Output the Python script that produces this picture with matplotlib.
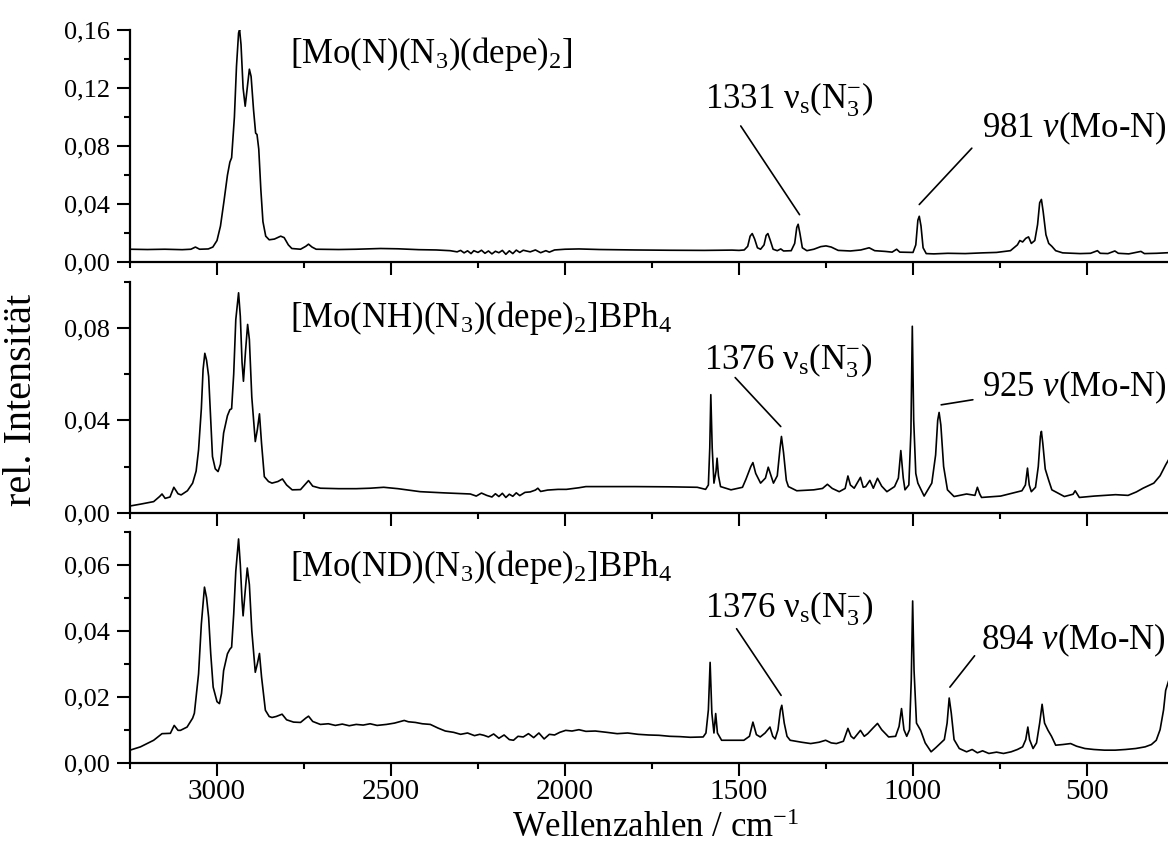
import matplotlib
matplotlib.use("Agg")
import matplotlib.pyplot as plt
from matplotlib.ticker import MultipleLocator, FuncFormatter

plt.rcParams['font.family'] = ['Liberation Serif', 'DejaVu Serif']
plt.rcParams['mathtext.fontset'] = 'custom'
plt.rcParams['mathtext.rm'] = 'Liberation Serif'
plt.rcParams['mathtext.it'] = 'Liberation Serif:italic'
plt.rcParams['mathtext.bf'] = 'Liberation Serif:bold'

# ---------------- data ----------------
top_wn = [3250, 3200, 3150, 3100, 3075, 3062, 3050, 3025, 3012, 3000, 2990, 2980, 2970, 2963, 2958,
          2950, 2944, 2938, 2935, 2931, 2925, 2919, 2913, 2907, 2902, 2895, 2889, 2885, 2880, 2874,
          2868, 2860, 2850, 2835, 2817, 2807, 2795, 2785, 2760, 2745, 2737, 2727, 2715, 2650, 2600,
          2530, 2480, 2420, 2370, 2330, 2310, 2300, 2290, 2280, 2270, 2262, 2250, 2240, 2230, 2220,
          2210, 2200, 2190, 2180, 2170, 2160, 2150, 2140, 2130, 2120, 2100, 2085, 2070, 2055, 2045,
          2030, 2000, 1960, 1900, 1800, 1700, 1600, 1520, 1500, 1485, 1475, 1468, 1462, 1455, 1447,
          1438, 1428, 1422, 1417, 1410, 1402, 1390, 1380, 1372, 1350, 1340, 1334, 1330, 1325, 1318,
          1305, 1285, 1265, 1250, 1235, 1215, 1180, 1150, 1126, 1110, 1080, 1060, 1047, 1038, 1000,
          992, 986, 982, 977, 971, 962, 940, 900, 850, 800, 760, 720, 700, 693, 685,
          676, 668, 660, 650, 642, 636, 631, 626, 618, 610, 601, 590, 570, 520, 490,
          470, 462, 440, 420, 410, 380, 345, 335, 300, 250]
top_int = [0.0090, 0.0088, 0.0090, 0.0087, 0.0090, 0.0105, 0.0090, 0.0092, 0.0105, 0.0150, 0.0250, 0.0420, 0.0600, 0.0690, 0.0720,
           0.1000, 0.1350, 0.1580, 0.1600, 0.1500, 0.1200, 0.1075, 0.1200, 0.1330, 0.1280, 0.1050, 0.0890, 0.0880, 0.0780, 0.0500,
           0.0280, 0.0180, 0.0155, 0.0160, 0.0180, 0.0170, 0.0120, 0.0095, 0.0090, 0.0110, 0.0125, 0.0105, 0.0090, 0.0088, 0.0090,
           0.0095, 0.0093, 0.0087, 0.0085, 0.0080, 0.0072, 0.0082, 0.0065, 0.0079, 0.0060, 0.0080, 0.0068, 0.0083, 0.0062, 0.0078,
           0.0058, 0.0076, 0.0066, 0.0082, 0.0055, 0.0079, 0.0060, 0.0084, 0.0068, 0.0083, 0.0072, 0.0085, 0.0066, 0.0080, 0.0070,
           0.0085, 0.0090, 0.0092, 0.0088, 0.0085, 0.0083, 0.0082, 0.0084, 0.0082, 0.0085, 0.0110, 0.0180, 0.0198, 0.0160, 0.0100,
           0.0090, 0.0120, 0.0185, 0.0198, 0.0150, 0.0090, 0.0080, 0.0092, 0.0078, 0.0080, 0.0130, 0.0240, 0.0262, 0.0200, 0.0100,
           0.0080, 0.0090, 0.0108, 0.0113, 0.0105, 0.0082, 0.0078, 0.0085, 0.0100, 0.0080, 0.0075, 0.0070, 0.0090, 0.0070, 0.0068,
           0.0120, 0.0290, 0.0317, 0.0250, 0.0100, 0.0060, 0.0058, 0.0062, 0.0060, 0.0065, 0.0068, 0.0080, 0.0120, 0.0150, 0.0140,
           0.0165, 0.0175, 0.0130, 0.0150, 0.0260, 0.0410, 0.0433, 0.0350, 0.0190, 0.0130, 0.0110, 0.0080, 0.0065, 0.0060, 0.0062,
           0.0080, 0.0062, 0.0060, 0.0078, 0.0062, 0.0058, 0.0075, 0.0060, 0.0062, 0.0068]

mid_wn = [3250, 3220, 3182, 3165, 3158, 3149, 3135, 3124, 3112, 3103, 3085, 3070, 3060, 3053, 3045,
          3040, 3035, 3030, 3024, 3018, 3013, 3005, 2997, 2990, 2981, 2970, 2963, 2958, 2952, 2946,
          2938, 2933, 2928, 2924, 2918, 2912, 2907, 2900, 2890, 2884, 2878, 2872, 2864, 2852, 2842,
          2825, 2812, 2800, 2784, 2760, 2745, 2737, 2725, 2703, 2650, 2600, 2560, 2521, 2480, 2416,
          2350, 2300, 2272, 2255, 2240, 2225, 2210, 2200, 2190, 2180, 2170, 2160, 2150, 2140, 2130,
          2115, 2100, 2085, 2078, 2070, 2050, 2020, 1996, 1960, 1940, 1800, 1700, 1620, 1596, 1588,
          1584, 1581, 1577, 1572, 1566, 1563, 1559, 1553, 1523, 1490, 1480, 1466, 1460, 1452, 1438,
          1424, 1416, 1408, 1401, 1390, 1382, 1378, 1372, 1364, 1358, 1334, 1285, 1260, 1246, 1232,
          1212, 1195, 1187, 1180, 1169, 1151, 1143, 1136, 1124, 1114, 1102, 1090, 1075, 1053, 1042,
          1035, 1028, 1023, 1012, 1006, 1002, 998, 992, 986, 968, 946, 935, 929, 925, 920,
          912, 901, 882, 846, 822, 815, 808, 803, 748, 687, 677, 671, 666, 660, 648,
          640, 634, 631, 627, 620, 610, 601, 565, 540, 534, 522, 479, 418, 382, 358,
          339, 308, 290, 274, 250]
mid_int = [0.0029, 0.0037, 0.0048, 0.0070, 0.0081, 0.0062, 0.0068, 0.0110, 0.0082, 0.0077, 0.0095, 0.0128, 0.0180, 0.0272, 0.0450,
           0.0620, 0.0690, 0.0660, 0.0590, 0.0400, 0.0243, 0.0190, 0.0178, 0.0210, 0.0345, 0.0420, 0.0446, 0.0450, 0.0600, 0.0836,
           0.0952, 0.0850, 0.0650, 0.0569, 0.0700, 0.0815, 0.0750, 0.0500, 0.0308, 0.0360, 0.0428, 0.0300, 0.0156, 0.0135, 0.0128,
           0.0135, 0.0146, 0.0120, 0.0099, 0.0100, 0.0125, 0.0139, 0.0115, 0.0106, 0.0104, 0.0104, 0.0106, 0.0110, 0.0104, 0.0091,
           0.0086, 0.0083, 0.0081, 0.0072, 0.0085, 0.0075, 0.0068, 0.0082, 0.0070, 0.0084, 0.0066, 0.0080, 0.0071, 0.0086, 0.0074,
           0.0088, 0.0090, 0.0098, 0.0106, 0.0092, 0.0098, 0.0101, 0.0101, 0.0108, 0.0113, 0.0113, 0.0112, 0.0110, 0.0101, 0.0120,
           0.0280, 0.0511, 0.0280, 0.0128, 0.0180, 0.0236, 0.0160, 0.0113, 0.0099, 0.0110, 0.0145, 0.0200, 0.0217, 0.0170, 0.0128,
           0.0150, 0.0197, 0.0160, 0.0128, 0.0160, 0.0280, 0.0330, 0.0260, 0.0140, 0.0113, 0.0095, 0.0099, 0.0105, 0.0123, 0.0105,
           0.0091, 0.0105, 0.0159, 0.0120, 0.0106, 0.0153, 0.0110, 0.0113, 0.0140, 0.0106, 0.0149, 0.0115, 0.0091, 0.0113, 0.0150,
           0.0269, 0.0150, 0.0099, 0.0120, 0.0350, 0.0807, 0.0400, 0.0170, 0.0128, 0.0072, 0.0128, 0.0250, 0.0400, 0.0434, 0.0380,
           0.0200, 0.0099, 0.0070, 0.0081, 0.0075, 0.0110, 0.0080, 0.0066, 0.0072, 0.0095, 0.0120, 0.0193, 0.0120, 0.0091, 0.0110,
           0.0200, 0.0330, 0.0352, 0.0300, 0.0189, 0.0140, 0.0099, 0.0070, 0.0080, 0.0095, 0.0066, 0.0072, 0.0078, 0.0075, 0.0090,
           0.0106, 0.0128, 0.0160, 0.0207, 0.0270]

bot_wn = [3250, 3220, 3182, 3158, 3134, 3123, 3112, 3105, 3086, 3070, 3065, 3053, 3045, 3036, 3030,
          3024, 3018, 3011, 3000, 2993, 2987, 2981, 2970, 2963, 2958, 2952, 2946, 2938, 2933, 2928,
          2925, 2919, 2913, 2907, 2900, 2890, 2884, 2878, 2872, 2861, 2850, 2842, 2830, 2813, 2800,
          2780, 2760, 2745, 2737, 2725, 2703, 2680, 2660, 2640, 2620, 2600, 2580, 2560, 2540, 2513,
          2490, 2462, 2450, 2430, 2410, 2387, 2365, 2344, 2320, 2300, 2280, 2260, 2245, 2233, 2220,
          2205, 2190, 2175, 2160, 2148, 2135, 2120, 2105, 2090, 2075, 2060, 2045, 2030, 2015, 1998,
          1980, 1960, 1940, 1913, 1880, 1850, 1820, 1790, 1760, 1730, 1699, 1670, 1640, 1603, 1595,
          1588, 1583, 1578, 1572, 1567, 1562, 1550, 1486, 1470, 1460, 1450, 1439, 1425, 1411, 1403,
          1396, 1388, 1381, 1377, 1370, 1362, 1353, 1320, 1294, 1270, 1251, 1235, 1220, 1200, 1187,
          1178, 1170, 1151, 1140, 1130, 1115, 1102, 1090, 1070, 1050, 1040, 1033, 1026, 1018, 1010,
          1005, 1001, 997, 990, 978, 965, 948, 935, 920, 910, 902, 896, 890, 882, 867,
          846, 830, 815, 800, 782, 760, 740, 718, 700, 685, 676, 670, 665, 655, 645,
          636, 629, 622, 612, 602, 590, 570, 547, 530, 506, 480, 450, 419, 390, 360,
          333, 315, 301, 290, 280, 274, 250]
bot_int = [0.0038, 0.0048, 0.0068, 0.0088, 0.0089, 0.0113, 0.0098, 0.0098, 0.0108, 0.0135, 0.0150, 0.0269, 0.0420, 0.0532, 0.0500,
           0.0440, 0.0330, 0.0229, 0.0185, 0.0179, 0.0210, 0.0279, 0.0330, 0.0344, 0.0350, 0.0450, 0.0580, 0.0678, 0.0600, 0.0490,
           0.0445, 0.0520, 0.0590, 0.0540, 0.0400, 0.0274, 0.0300, 0.0331, 0.0260, 0.0159, 0.0140, 0.0137, 0.0140, 0.0147, 0.0130,
           0.0123, 0.0122, 0.0135, 0.0141, 0.0125, 0.0116, 0.0118, 0.0113, 0.0117, 0.0112, 0.0116, 0.0114, 0.0118, 0.0113, 0.0116,
           0.0120, 0.0128, 0.0124, 0.0122, 0.0118, 0.0116, 0.0105, 0.0096, 0.0092, 0.0086, 0.0090, 0.0082, 0.0086, 0.0083, 0.0078,
           0.0087, 0.0074, 0.0084, 0.0070, 0.0068, 0.0080, 0.0078, 0.0088, 0.0076, 0.0090, 0.0072, 0.0086, 0.0084, 0.0092, 0.0098,
           0.0096, 0.0100, 0.0095, 0.0096, 0.0092, 0.0088, 0.0090, 0.0086, 0.0084, 0.0083, 0.0080, 0.0079, 0.0077, 0.0078, 0.0090,
           0.0160, 0.0304, 0.0150, 0.0090, 0.0149, 0.0090, 0.0068, 0.0068, 0.0080, 0.0123, 0.0085, 0.0078, 0.0090, 0.0108, 0.0080,
           0.0072, 0.0100, 0.0160, 0.0174, 0.0120, 0.0080, 0.0068, 0.0062, 0.0058, 0.0062, 0.0068, 0.0060, 0.0058, 0.0065, 0.0104,
           0.0080, 0.0073, 0.0098, 0.0080, 0.0088, 0.0105, 0.0119, 0.0100, 0.0078, 0.0080, 0.0110, 0.0164, 0.0100, 0.0080, 0.0100,
           0.0250, 0.0490, 0.0280, 0.0120, 0.0098, 0.0060, 0.0033, 0.0045, 0.0060, 0.0070, 0.0120, 0.0196, 0.0150, 0.0070, 0.0043,
           0.0033, 0.0040, 0.0030, 0.0036, 0.0028, 0.0032, 0.0028, 0.0033, 0.0040, 0.0048, 0.0070, 0.0108, 0.0070, 0.0043, 0.0060,
           0.0120, 0.0177, 0.0120, 0.0098, 0.0080, 0.0053, 0.0055, 0.0058, 0.0050, 0.0043, 0.0040, 0.0038, 0.0038, 0.0040, 0.0043,
           0.0048, 0.0055, 0.0068, 0.0100, 0.0160, 0.0219, 0.0300]

compounds = ['[Mo(N)(N$_\\mathrm{3}$)(depe)$_\\mathrm{2}$]',
             '[Mo(NH)(N$_\\mathrm{3}$)(depe)$_\\mathrm{2}$]BPh$_\\mathrm{4}$',
             '[Mo(ND)(N$_\\mathrm{3}$)(depe)$_\\mathrm{2}$]BPh$_\\mathrm{4}$']
azide_labels = ['1331 ν$_\\mathrm{s}$(N$_\\mathrm{3}^{-}$)',
                '1376 ν$_\\mathrm{s}$(N$_\\mathrm{3}^{-}$)',
                '1376 ν$_\\mathrm{s}$(N$_\\mathrm{3}^{-}$)']
azide_peaks = [1330, 1378, 1377]
moN_labels = ['981 $\\mathit{ν}$(Mo-N)', '925 $\\mathit{ν}$(Mo-N)', '894 $\\mathit{ν}$(Mo-N)']
moN_peaks = [982, 925, 896]
ylims = [0.16, 0.10, 0.07]
major_steps = [0.04, 0.04, 0.02]

# ---------------- figure ----------------
W, H = 1168, 843
fig = plt.figure(figsize=(W / 100, H / 100), dpi=100)

def px_axes(top, bottom, left=130, right=1174):
    return [left / W, 1 - bottom / H, (right - left) / W, (bottom - top) / H]

axes = [fig.add_axes(px_axes(30, 262.3)),
        fig.add_axes(px_axes(281.7, 512.7)),
        fig.add_axes(px_axes(531.7, 762.7))]

series = [(top_wn, top_int), (mid_wn, mid_int), (bot_wn, bot_int)]
comma = FuncFormatter(lambda v, p: f"{v:.2f}".replace('.', ','))

# label positions (data coords of each panel)
comp_pos = [(2790, 0.137), (2790, 0.0802), (2790, 0.0565)]
azide_text = [(1599, 0.1057), (1602, 0.0619), (1598, 0.0439)]
azide_line = [((1495, 0.0939), (1326, 0.0328)), ((1511, 0.0585), (1380, 0.0373)), ((1507, 0.0406), (1379, 0.0204))]
moN_text = [(803, 0.0861), (803, 0.0503), (805, 0.0344)]
moN_line = [((831, 0.0786), (982, 0.0398)), ((828, 0.0489), (919, 0.0467)), ((823, 0.0324), (894, 0.0229))]

for i, ax in enumerate(axes):
    wn, it = series[i]
    ax.plot(wn, it, color='black', lw=1.2, solid_joinstyle='round')
    ax.set_xlim(3250, 250)
    ax.set_ylim(0, ylims[i])
    for s in ['top', 'right']:
        ax.spines[s].set_visible(False)
    for s in ['left', 'bottom']:
        ax.spines[s].set_linewidth(1.6)
    ax.xaxis.set_major_locator(MultipleLocator(500))
    ax.xaxis.set_minor_locator(MultipleLocator(250))
    ax.yaxis.set_major_locator(MultipleLocator(major_steps[i]))
    ax.yaxis.set_minor_locator(MultipleLocator(major_steps[i] / 2))
    ax.yaxis.set_major_formatter(comma)
    ax.tick_params(which='major', direction='out', length=9.5, width=1.5)
    ax.tick_params(which='minor', direction='out', length=4, width=1.5)
    ax.tick_params(axis='y', labelsize=19, pad=5)
    ax.tick_params(axis='x', labelsize=21, pad=2)
    if i < 2:
        ax.tick_params(axis='x', labelbottom=False)
    ax.patch.set_visible(False)

    ax.text(*comp_pos[i], compounds[i], fontsize=25, ha='left', va='baseline')
    ax.text(*azide_text[i], azide_labels[i], fontsize=25, ha='left', va='baseline')
    ax.text(*moN_text[i], moN_labels[i], fontsize=25, ha='left', va='baseline')
    (a0, a1) = azide_line[i]
    ax.annotate('', xy=a1, xytext=a0,
                arrowprops=dict(arrowstyle='-', color='black', lw=1.2, shrinkA=0, shrinkB=0))
    (m0, m1) = moN_line[i]
    ax.annotate('', xy=m1, xytext=m0,
                arrowprops=dict(arrowstyle='-', color='black', lw=1.2, shrinkA=0, shrinkB=0))

fig.text(22 / W, 1 - 400 / H, 'rel. Intensität', rotation=90, fontsize=29, ha='center', va='center')
fig.text(656 / W, 1 - 837 / H, 'Wellenzahlen / cm$^{\\mathrm{-1}}$', fontsize=25, ha='center', va='baseline')

fig.savefig('out.png', dpi=100)
